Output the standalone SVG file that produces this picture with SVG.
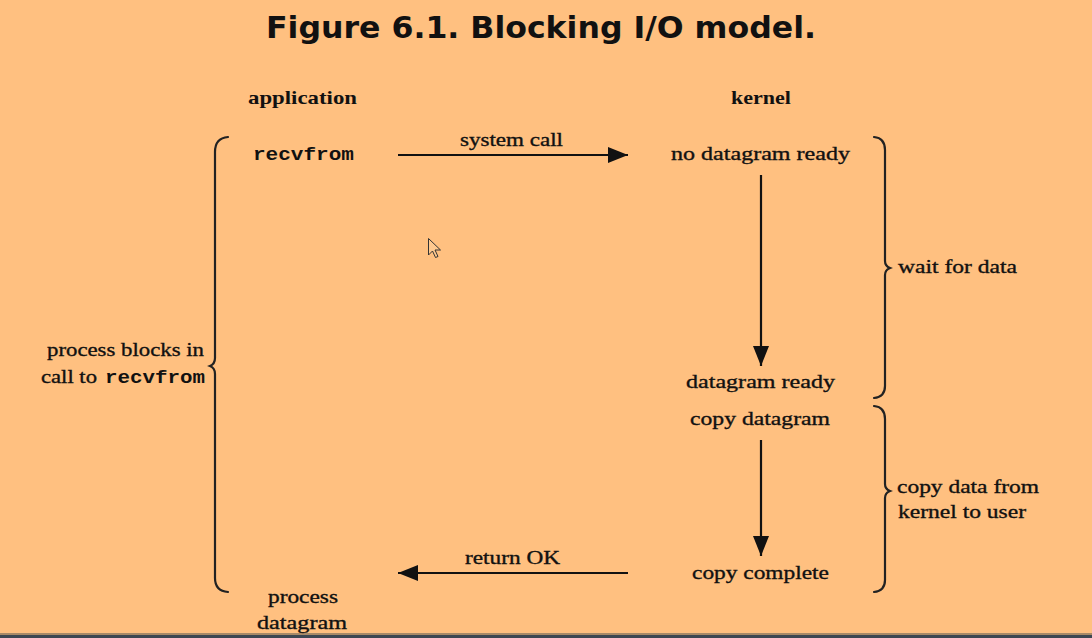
<svg xmlns="http://www.w3.org/2000/svg" width="1092" height="638" viewBox="0 0 1092 638">
<defs>
<style>
.t{font-family:"Liberation Serif","DejaVu Serif",serif;font-size:19px;fill:#111;stroke:#111;stroke-width:0.35}
.h{font-family:"Liberation Serif","DejaVu Serif",serif;font-size:19px;font-weight:bold;fill:#111}
.m{font-family:"Liberation Mono","DejaVu Sans Mono",monospace;font-size:19px;font-weight:bold;fill:#111}
.ln{stroke:#111;stroke-width:2.2;fill:none}
.br{stroke:#222;stroke-width:2.2;fill:none;stroke-linecap:round}
</style>
<marker id="av" viewBox="0 0 10 10" refX="10" refY="5" markerWidth="20" markerHeight="16" markerUnits="userSpaceOnUse" orient="auto" preserveAspectRatio="none">
<path d="M0,0 L10,5 L0,10 Z" fill="#111"/>
</marker>
</defs>
<rect width="1092" height="638" fill="#FFC080"/>
<rect x="0" y="633" width="1092" height="2" fill="#a88a68"/>
<rect x="0" y="635" width="1092" height="3" fill="#3d4752"/>
<text x="541" y="38" text-anchor="middle" font-family="'DejaVu Sans','Liberation Sans',sans-serif" font-size="31" font-weight="bold" fill="#111" textLength="550" lengthAdjust="spacingAndGlyphs">Figure 6.1. Blocking I/O model.</text>
<g id="connectors">
<line class="ln" x1="398" y1="155" x2="628" y2="155" marker-end="url(#av)"/>
<line class="ln" x1="761" y1="175" x2="761" y2="366" marker-end="url(#av)"/>
<line class="ln" x1="761" y1="440" x2="761" y2="556" marker-end="url(#av)"/>
<line class="ln" x1="628" y1="573" x2="398" y2="573" marker-end="url(#av)"/>
</g>
<g id="application"><text class="h" x="248" y="104" textLength="109" lengthAdjust="spacingAndGlyphs">application</text></g>
<g id="kernel"><text class="h" x="731" y="104" textLength="60" lengthAdjust="spacingAndGlyphs">kernel</text></g>
<g id="recvfrom"><text class="m" x="253" y="160" textLength="101" lengthAdjust="spacingAndGlyphs">recvfrom</text></g>
<g id="system-call"><text class="t" x="460" y="146" textLength="103" lengthAdjust="spacingAndGlyphs">system call</text></g>
<g id="no-datagram-ready"><text class="t" x="671" y="160" textLength="179" lengthAdjust="spacingAndGlyphs">no datagram ready</text></g>
<g id="datagram-ready"><text class="t" x="686" y="388" textLength="149" lengthAdjust="spacingAndGlyphs">datagram ready</text></g>
<g id="copy-datagram"><text class="t" x="690" y="425" textLength="140" lengthAdjust="spacingAndGlyphs">copy datagram</text></g>
<g id="copy-complete"><text class="t" x="692" y="579" textLength="137" lengthAdjust="spacingAndGlyphs">copy complete</text></g>
<g id="return-ok"><text class="t" x="465" y="564" textLength="95" lengthAdjust="spacingAndGlyphs">return OK</text></g>
<g id="process-datagram">
<text class="t" x="268" y="603" textLength="70" lengthAdjust="spacingAndGlyphs">process</text>
<text class="t" x="257" y="629" textLength="90" lengthAdjust="spacingAndGlyphs">datagram</text>
</g>
<g id="left-brace">
<path class="br" d="M228,137 Q215,138 215,152 L215,358 Q215,364 210,366 Q215,368 215,374 L215,578 Q215,591 228,592"/>
<text class="t" x="47" y="356" textLength="157" lengthAdjust="spacingAndGlyphs">process blocks in</text>
<text class="t" x="41" y="383" textLength="56" lengthAdjust="spacingAndGlyphs">call to</text>
<text class="m" x="105" y="383" textLength="100" lengthAdjust="spacingAndGlyphs">recvfrom</text>
</g>
<g id="wait-brace">
<path class="br" d="M874,137 Q885,138 885,150 L885,261 Q885,266 890,268 Q885,270 885,275 L885,386 Q885,397 874,398"/>
<text class="t" x="898" y="273" textLength="119" lengthAdjust="spacingAndGlyphs">wait for data</text>
</g>
<g id="copy-brace">
<path class="br" d="M874,406 Q885,407 885,419 L885,484 Q885,489 890,491 Q885,493 885,498 L885,580 Q885,591 874,592"/>
<text class="t" x="897" y="493" textLength="142" lengthAdjust="spacingAndGlyphs">copy data from</text>
<text class="t" x="898" y="518" textLength="128" lengthAdjust="spacingAndGlyphs">kernel to user</text>
</g>
<path d="M428.5,238.5 L428.5,255 L432.5,251 L435.5,257.5 L438,256.5 L435,250 L440.5,250 Z" fill="#FFC98f" stroke="#333" stroke-width="1"/>
</svg>
